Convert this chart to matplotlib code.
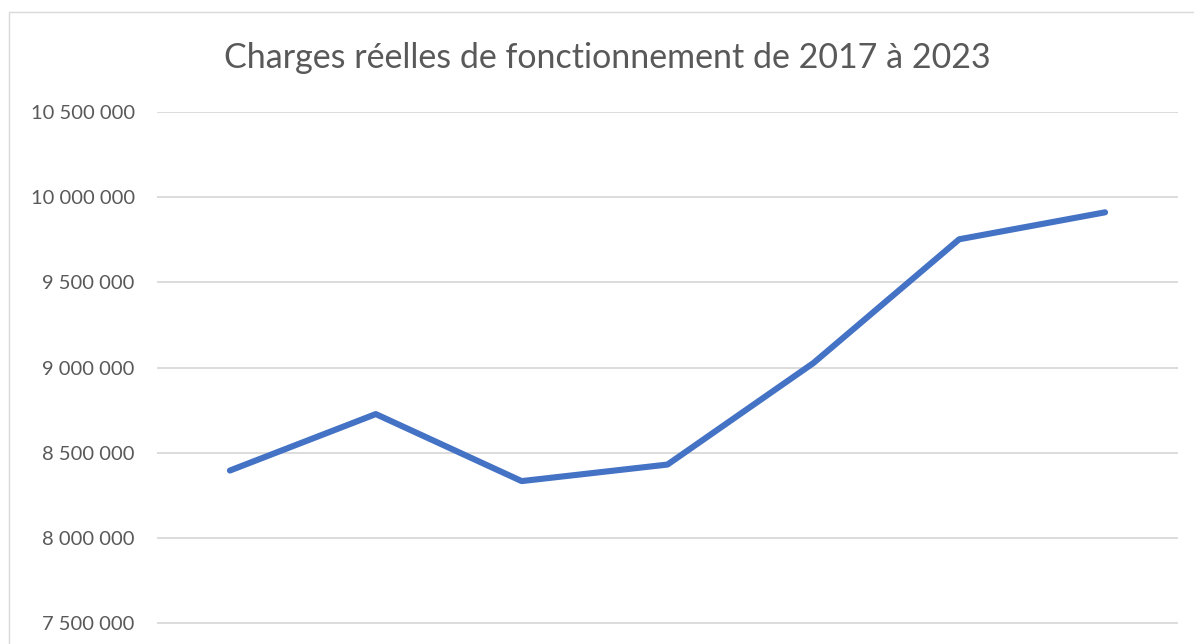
"""
Charges réelles de fonctionnement 2017-2023 (line chart, Excel style).
"""
import matplotlib
matplotlib.use("Agg")
import matplotlib.pyplot as plt
import matplotlib.ticker as mticker
from matplotlib.patches import Rectangle

# ── data ────────────────────────────────────────────────────────────────────
years = ["2017", "2018", "2019", "2020", "2021", "2022", "2023"]
charges = [8_396_000, 8_727_000, 8_334_000, 8_431_000, 9_026_000, 9_752_000, 9_910_000]
y_ticks = [7_000_000, 7_500_000, 8_000_000, 8_500_000, 9_000_000,
           9_500_000, 10_000_000, 10_500_000]

TEXT = "#595959"
GRID = "#d9d9d9"
LINE = "#4472C4"

plt.rcParams["font.family"] = ["Lato", "DejaVu Sans"]

fig = plt.figure(figsize=(11.94, 6.44), dpi=100)

# chart frame (cropped at right / bottom like the source)
fig.patches.append(Rectangle((9 / 1194, -0.5), 1.5, 0.5 + 1 - 12 / 644,
                             transform=fig.transFigure, fill=False,
                             edgecolor=GRID, linewidth=1.0))

# axes extends below the figure: the source picture is cropped there
ax = fig.add_axes([157 / 1194, 1 - 708.6 / 644, 1021 / 1194, 596.9 / 644])

x = range(len(years))
ax.plot(x, charges, color=LINE, linewidth=4.4, solid_capstyle="round",
        solid_joinstyle="round", zorder=3)

ax.set_xlim(-0.5, len(years) - 0.5)
ax.set_ylim(y_ticks[0], y_ticks[-1])
ax.set_yticks(y_ticks)
ax.yaxis.set_major_formatter(
    mticker.FuncFormatter(lambda v, _: f"{int(v):,}".replace(",", " ")))
ax.set_xticks(list(x))
ax.set_xticklabels(years)

ax.tick_params(axis="y", length=0, pad=16, labelsize=14.5, labelcolor=TEXT)
ax.tick_params(axis="x", length=0, labelsize=14.5, labelcolor=TEXT)
ax.grid(True, axis="y", color=GRID, linewidth=1.3)
ax.set_axisbelow(True)
for side in ax.spines.values():
    side.set_visible(False)

fig.text(607 / 1194, 1 - 58 / 644,
         "Charges réelles de fonctionnement de 2017 à 2023",
         ha="center", va="center", fontsize=24.5, color=TEXT)

fig.savefig("out.png", dpi=100)
